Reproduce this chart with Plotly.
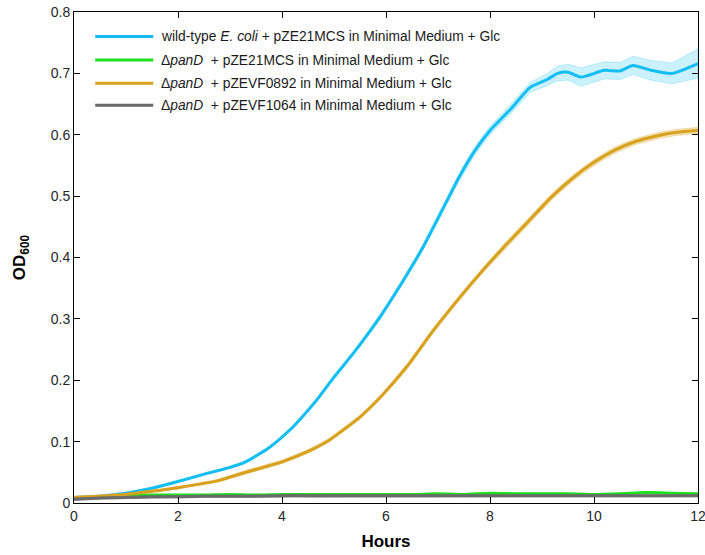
import plotly.graph_objects as go

# Growth curves, OD600 vs time (hours); mean and spread of replicates
hours_wt = [0, 0.5, 1.0, 1.5, 2.0, 2.5, 3.0, 3.3, 3.75, 4.2, 4.67, 5.0, 5.4, 5.9, 6.3, 6.7,
            7.05, 7.4, 7.7, 8.0, 8.4, 8.77, 9.1, 9.3, 9.5, 9.75, 10.2, 10.5, 10.75, 11.1,
            11.5, 12.0]
od_wt = [0.009, 0.011, 0.016, 0.024, 0.035, 0.047, 0.058, 0.067, 0.090, 0.123, 0.168, 0.205,
         0.247, 0.305, 0.358, 0.415, 0.472, 0.530, 0.573, 0.607, 0.642, 0.677, 0.690, 0.700,
         0.702, 0.694, 0.705, 0.704, 0.713, 0.705, 0.700, 0.716]
sd_wt = [0.002, 0.002, 0.002, 0.002, 0.002, 0.002, 0.002, 0.002, 0.002, 0.003, 0.003, 0.003,
         0.003, 0.004, 0.004, 0.005, 0.005, 0.006, 0.007, 0.007, 0.008, 0.008, 0.010, 0.012,
         0.013, 0.015, 0.014, 0.014, 0.015, 0.016, 0.017, 0.024]

hours_0892 = [0, 0.5, 1.0, 1.5, 2.0, 2.75, 3.3, 4.0, 4.5, 4.9, 5.5, 5.9, 6.4, 6.9, 7.4,
              7.85, 8.3, 8.75, 9.2, 9.6, 10.0, 10.4, 10.8, 11.2, 11.6, 12.0]
od_0892 = [0.009, 0.011, 0.014, 0.019, 0.025, 0.036, 0.050, 0.067, 0.084, 0.102, 0.140,
           0.173, 0.222, 0.280, 0.333, 0.378, 0.420, 0.460, 0.500, 0.530, 0.555, 0.575,
           0.589, 0.598, 0.604, 0.607]
sd_0892 = [0.002, 0.002, 0.002, 0.002, 0.002, 0.002, 0.003, 0.003, 0.003, 0.003, 0.003,
           0.003, 0.004, 0.004, 0.004, 0.004, 0.005, 0.005, 0.005, 0.005, 0.005, 0.005,
           0.005, 0.005, 0.005, 0.005]

hours_ctrl = [0, 0.5, 1.0, 1.5, 2.0, 2.5, 3.0, 3.5, 4.0, 4.5, 5.0, 5.5, 6.0, 6.5, 7.0,
              7.5, 8.0, 8.5, 9.0, 9.5, 10.0, 10.5, 11.0, 11.5, 12.0]
od_mcs = [0.007, 0.010, 0.012, 0.013, 0.013, 0.013, 0.014, 0.013, 0.014, 0.014, 0.014,
          0.014, 0.014, 0.014, 0.015, 0.014, 0.016, 0.015, 0.015, 0.015, 0.014, 0.015,
          0.017, 0.016, 0.015]
sd_mcs = [0.001] * 25
od_1064 = [0.006, 0.008, 0.009, 0.010, 0.010, 0.011, 0.011, 0.011, 0.012, 0.012, 0.012,
           0.012, 0.012, 0.012, 0.012, 0.012, 0.012, 0.012, 0.012, 0.012, 0.012, 0.012,
           0.012, 0.012, 0.012]
sd_1064 = [0.002] * 25

legend_labels = [
    "wild-type <i>E. coli</i> + pZE21MCS in Minimal Medium + Glc",
    "\u0394<i>panD</i>  + pZE21MCS in Minimal Medium + Glc",
    "\u0394<i>panD</i>  + pZEVF0892 in Minimal Medium + Glc",
    "\u0394<i>panD</i>  + pZEVF1064 in Minimal Medium + Glc",
]
line_colors = ["#14BEF2", "#1EE01E", "#D9A21E", "#6A6A6A"]
band_colors = ["rgba(20,190,242,0.22)", "rgba(30,224,30,0.30)",
               "rgba(217,162,30,0.30)", "rgba(106,106,106,0.30)"]

series = [
    (hours_wt, od_wt, sd_wt),
    (hours_ctrl, od_mcs, sd_mcs),
    (hours_0892, od_0892, sd_0892),
    (hours_ctrl, od_1064, sd_1064),
]

fig = go.Figure()

for (x, y, sd), lc, bc in zip(series, line_colors, band_colors):
    upper = [v + s for v, s in zip(y, sd)]
    lower = [v - s for v, s in zip(y, sd)]
    fig.add_trace(go.Scatter(
        x=list(x) + list(x)[::-1], y=upper + lower[::-1],
        fill="toself", fillcolor=bc, mode="lines",
        line=dict(color=bc, width=1), hoverinfo="skip", showlegend=False,
    ))
    fig.add_trace(go.Scatter(
        x=x, y=y, mode="lines", line=dict(color=lc, width=3, shape="spline", smoothing=0.6),
        showlegend=False,
    ))

# Legend box drawn in paper coordinates (upper left, inside the axes)
row_y = [0.950, 0.902, 0.855, 0.810]
for lbl, lc, yy in zip(legend_labels, line_colors, row_y):
    fig.add_shape(type="line", xref="paper", yref="paper",
                  x0=0.034, x1=0.127, y0=yy, y1=yy,
                  line=dict(color=lc, width=3))
    fig.add_annotation(xref="paper", yref="paper", x=0.136, y=yy, text=lbl,
                       showarrow=False, xanchor="left", yanchor="middle",
                       font=dict(family="Liberation Sans, Arial", size=13.8, color="#1a1a1a"))

axis_common = dict(
    showline=True, linecolor="black", linewidth=1, mirror="ticks",
    ticks="inside", ticklen=6, tickcolor="black", showgrid=False, zeroline=False,
    automargin=False, ticklabeloverflow="allow",
    tickfont=dict(family="Liberation Sans, Arial", size=14, color="#262626"),
)

fig.update_xaxes(range=[0, 12], tickvals=[0, 2, 4, 6, 8, 10, 12],
                 title=dict(text="<b>Hours</b>", standoff=12,
                            font=dict(family="Liberation Sans, Arial", size=17, color="black")),
                 **axis_common)
fig.update_yaxes(range=[0, 0.8], tickvals=[0, 0.1, 0.2, 0.3, 0.4, 0.5, 0.6, 0.7, 0.8],
                 ticktext=["0", "0.1", "0.2", "0.3", "0.4", "0.5", "0.6", "0.7", "0.8"],
                 title=dict(text="<b>OD<sub>600</sub></b>", standoff=20,
                            font=dict(family="Liberation Sans, Arial", size=17, color="black")),
                 **axis_common)

fig.update_layout(
    width=705, height=555,
    margin=dict(l=74, r=7, t=12, b=52),
    plot_bgcolor="white", paper_bgcolor="white",
)

fig.write_html("out.html")
